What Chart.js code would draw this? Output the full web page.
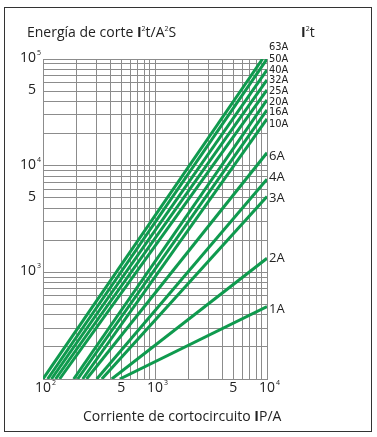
<!DOCTYPE html>
<html>
<head>
<meta charset="utf-8">
<script src="https://cdn.jsdelivr.net/npm/chart.js@4.4.1/dist/chart.umd.min.js"></script>
<style>
    body { margin: 0; background: #fff; font-family: "Open Sans", "Noto Sans", sans-serif; color: #222; }
    .frame { position: absolute; left: 4px; top: 7px; width: 366px; height: 423px; border: 1.5px solid #333; }
    .wrap { position: absolute; left: 0; top: 0; width: 377px; height: 437px; }
    .title { position: absolute; font-size: 14px; white-space: nowrap; }
    .title sup { font-size: 7px; vertical-align: 6px; }
    .title b { font-weight: 700; }
    #yTitle { left: 27px; top: 22px; }
    #unitTitle { left: 301px; top: 22px; }
    #xTitle { left: 83px; top: 406px; }
</style>
</head>
<body>
<div class="frame"></div>
<div class="wrap">
    <canvas id="cutChart" width="377" height="437"></canvas>
    <div class="title" id="yTitle">Energía de corte <b>I</b><sup>2</sup>t/A<sup>2</sup>S</div>
    <div class="title" id="unitTitle"><b>I</b><sup>2</sup>t</div>
    <div class="title" id="xTitle">Corriente de cortocircuito <b>I</b>P/A</div>
</div>
<script>
// rated currents of the curves
const ratings = ['63A', '50A', '40A', '32A', '25A', '20A', '16A', '10A', '6A', '4A', '3A', '2A', '1A'];
// each curve is a straight line on log-log paper: start point (bottom) and end point
const startCurrent = [100, 110, 119, 129.5, 140.6, 188, 204, 226, 245, 302, 335, 411, 485];
const startEnergy  = [100, 100, 100, 100, 100, 100, 100, 100, 100, 100, 100, 100, 100];
const endCurrent   = [9120, 10000, 10000, 10000, 10000, 10000, 10000, 10000, 10000, 10000, 10000, 10000, 10000];
const endEnergy    = [100000, 100000, 78900, 63600, 51300, 41300, 33300, 27400, 13200, 7460, 5130, 1355, 477];

const xTickValues = [100, 500, 1000, 5000, 10000];
const xTickLabels = ['10^2', '5', '10^3', '5', '10^4'];
const yTickValues = [1000, 5000, 10000, 50000, 100000];
const yTickLabels = ['10^3', '5', '10^4', '5', '10^5'];

// label placement tweaks (px) for the curve names
const labelNudge = [-12, 0, 0, 0, 1, 2, 2, 5, 3, -2, 2, 0, 3];
const smallLabel = [true, true, true, true, true, true, true, true, false, false, false, false, false];

function logGrid(minExp, maxExp) {
    const out = [];
    for (let e = minExp; e < maxExp; e++) {
        for (let m = 1; m < 10; m++) out.push({ value: m * Math.pow(10, e) });
    }
    out.push({ value: Math.pow(10, maxExp) });
    return out;
}

function drawPower(ctx, text, x, y, align) {
    const [base, exp] = text.split('^');
    ctx.font = '14px "Open Sans", "Noto Sans", sans-serif';
    const w = ctx.measureText(base).width;
    let left = align === 'right' ? x - w : x - w / 2;
    ctx.textAlign = 'left';
    ctx.textBaseline = 'middle';
    ctx.fillText(base, left, y);
    if (exp) {
        ctx.font = '7px "Open Sans", "Noto Sans", sans-serif';
        ctx.fillText(exp, left + w + 1, y - 5);
    }
}

const textPlugin = {
    id: 'chartText',
    afterDraw(chart) {
        const { ctx, scales: { x, y } } = chart;
        ctx.save();
        ctx.fillStyle = '#222';
        yTickValues.forEach((v, i) => {
            drawPower(ctx, yTickLabels[i], 36, y.getPixelForValue(v) - 1, 'right');
        });
        xTickValues.forEach((v, i) => {
            drawPower(ctx, xTickLabels[i], x.getPixelForValue(v), 388, 'center');
        });
        chart.data.datasets.forEach((ds, i) => {
            const last = ds.data[ds.data.length - 1];
            const py = y.getPixelForValue(last.y) + labelNudge[i];
            ctx.font = smallLabel[i] ? '11px "DejaVu Sans Condensed", "Liberation Sans Narrow", sans-serif'
                                     : '13px "Open Sans", "Noto Sans", sans-serif';
            ctx.textAlign = 'left';
            ctx.textBaseline = 'middle';
            ctx.fillText(ratings[i], x.right + 2, py);
        });
        ctx.restore();
    }
};

const datasets = ratings.map((r, i) => ({
    label: r,
    data: [
        { x: startCurrent[i], y: startEnergy[i] },
        { x: endCurrent[i], y: endEnergy[i] }
    ],
    borderColor: '#0f9a4e',
    borderWidth: 3,
    pointRadius: 0,
    fill: false,
    tension: 0
}));

new Chart(document.getElementById('cutChart'), {
    type: 'line',
    data: { datasets },
    plugins: [textPlugin],
    options: {
        responsive: false,
        animation: false,
        layout: { padding: { left: 43, top: 59, right: 110, bottom: 58 } },
        plugins: { legend: { display: false }, tooltip: { enabled: false } },
        scales: {
            x: {
                type: 'logarithmic',
                min: 100, max: 10000,
                afterBuildTicks: (scale) => { scale.ticks = logGrid(2, 4); },
                ticks: { display: false },
                grid: { color: '#8c8c8c', lineWidth: 1, drawTicks: false },
                border: { color: '#8c8c8c' }
            },
            y: {
                type: 'logarithmic',
                min: 100, max: 100000,
                afterBuildTicks: (scale) => { scale.ticks = logGrid(2, 5); },
                ticks: { display: false },
                grid: { color: '#8c8c8c', lineWidth: 1, drawTicks: false },
                border: { color: '#8c8c8c' }
            }
        }
    }
});
</script>
</body>
</html>
